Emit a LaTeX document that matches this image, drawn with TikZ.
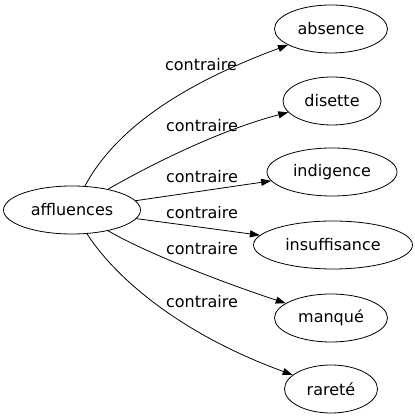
\documentclass[tikz,border=0pt]{standalone}
\usepackage{fontspec}
\setmainfont{DejaVu Sans}
\usetikzlibrary{arrows.meta,shapes.geometric}

\begin{document}
\begin{tikzpicture}[x=1pt, y=1pt, every node/.style={font=\fontsize{16}{19}\selectfont},
    word/.style={draw, ellipse, line width=0.8pt, minimum height=48pt, inner sep=0pt},
    rel/.style={line width=0.8pt, -{Triangle[length=10pt, width=7pt]}}]
  \useasboundingbox (0,0) rectangle (414,419);
  % words
  \node[word, minimum width=137pt] (aff) at (72,209) {affluences};
  \node[word, minimum width=113pt] (abs) at (331,390) {absence};
  \node[word, minimum width=98pt] (dis) at (332,318) {disette};
  \node[word, minimum width=130pt] (ind) at (332,247) {indigence};
  \node[word, minimum width=159pt] (ins) at (333,174) {insuffisance};
  \node[word, minimum width=113pt] (man) at (331,101) {manqué};
  \node[word, minimum width=93pt] (rar) at (331,30) {rareté};
  % relations
  \draw[rel] (aff) .. controls (115,289) and (180,334) .. (abs);
  \draw[rel] (aff) .. controls (150,254) and (220,289) .. (dis);
  \draw[rel] (aff) -- (ind);
  \draw[rel] (aff) -- (ins);
  \draw[rel] (aff) .. controls (150,164) and (230,134) .. (man);
  \draw[rel] (aff) .. controls (110,149) and (170,89) .. (rar);
  % labels
  \node (l1) at (201,354) {contraire};
  \node (l2) at (202,293) {contraire};
  \node (l3) at (202,242) {contraire};
  \node (l4) at (202,206) {contraire};
  \node (l5) at (202,170) {contraire};
  \node (l6) at (202,117) {contraire};
\end{tikzpicture}
\end{document}
